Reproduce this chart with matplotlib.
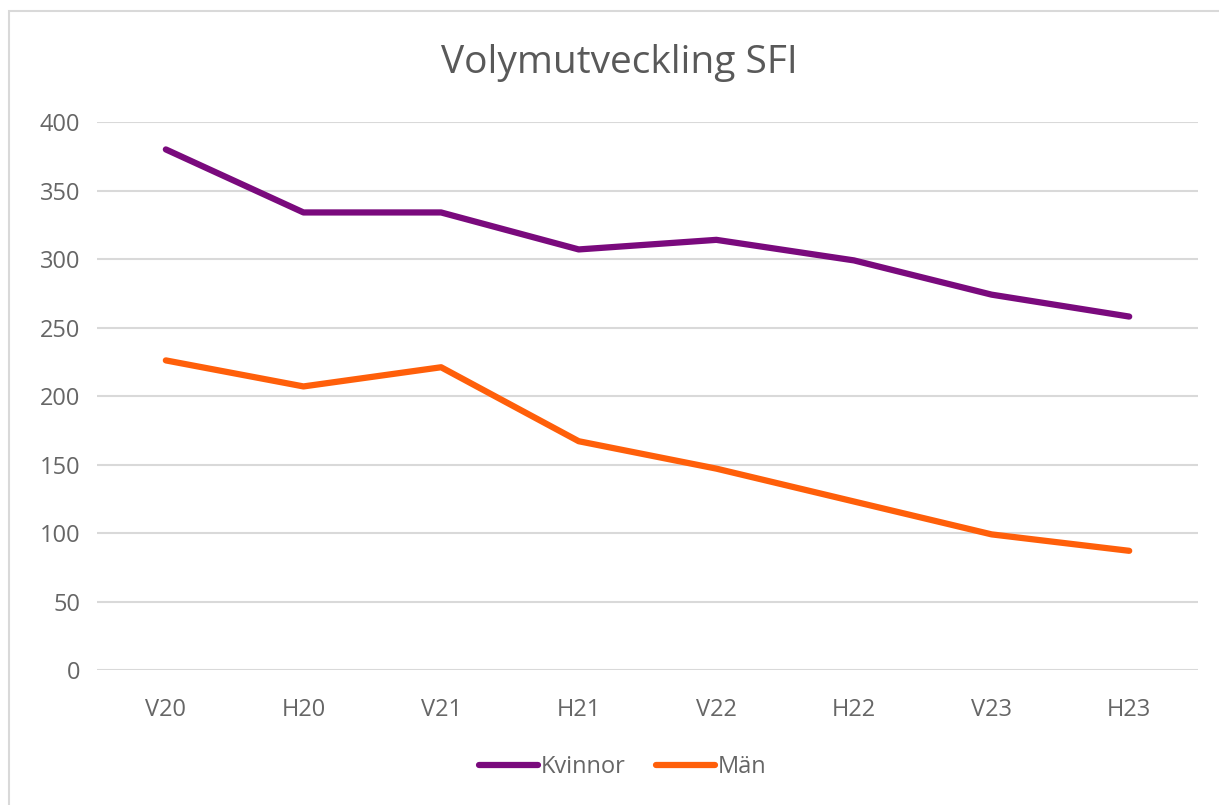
import matplotlib.pyplot as plt
from matplotlib.patches import Rectangle

plt.rcParams['font.family'] = ['Open Sans', 'DejaVu Sans']

terms = ['V20', 'H20', 'V21', 'H21', 'V22', 'H22', 'V23', 'H23']
kvinnor = [380, 334, 334, 307, 314, 299, 274, 258]
man = [226, 207, 221, 167, 147, 123, 99, 87]

fig = plt.figure(figsize=(12.19, 8.05), dpi=100)
ax = fig.add_axes([0.0796, 0.1677, 0.9032, 0.6807])

x = range(len(terms))
ax.plot(x, kvinnor, color='#7a0a7d', lw=4.5, solid_capstyle='round', label='Kvinnor')
ax.plot(x, man, color='#ff5f0a', lw=4.5, solid_capstyle='round', label='Män')

ax.set_xlim(-0.5, len(terms) - 0.5)
ax.set_ylim(0, 400)
ax.set_yticks(range(0, 401, 50))
ax.set_xticks(list(x))
ax.set_xticklabels(terms)
ax.grid(axis='y', color='#d9d9d9', lw=1.5)
ax.set_axisbelow(True)
for s in ax.spines.values():
    s.set_visible(False)
ax.tick_params(length=0, labelsize=17, colors='#666666', pad=12)
ax.tick_params(axis='x', pad=20)

fig.text(0.508, 0.922, 'Volymutveckling SFI', ha='center', va='center',
         fontsize=28, color='#595959')
leg = fig.legend(loc='center', bbox_to_anchor=(0.511, 0.047), ncol=2, frameon=False,
                 fontsize=17, handlelength=2.5, handletextpad=0.1, columnspacing=1.3)
for t in leg.get_texts():
    t.set_color('#666666')

fig.patches.append(Rectangle((9 / 1219, -0.1), 1.2, 1 - 11 / 805 + 0.1, transform=fig.transFigure,
                             fill=False, edgecolor='#d9d9d9', lw=1.5))

fig.savefig('out.png', dpi=100)
